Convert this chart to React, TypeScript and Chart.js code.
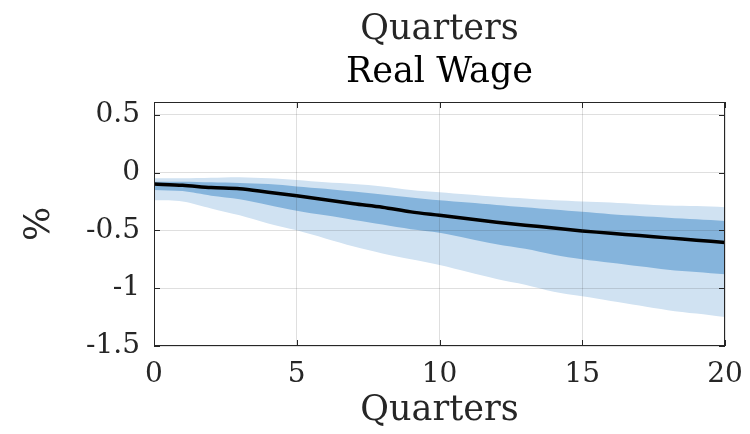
import React, { useEffect, useRef } from "react";
import { Chart, registerables } from "chart.js";

Chart.register(...registerables);

const quarters = [0, 1, 2, 3, 4, 5, 6, 7, 8, 9, 10, 11, 12, 13, 14, 15, 16, 17, 18, 19, 20];
const median = [-0.1, -0.11, -0.13, -0.14, -0.17, -0.2, -0.235, -0.27, -0.3, -0.34, -0.37, -0.4, -0.43, -0.455, -0.48, -0.505, -0.525, -0.545, -0.565, -0.585, -0.605];
const innerUpper = [-0.08, -0.08, -0.085, -0.09, -0.1, -0.12, -0.14, -0.165, -0.19, -0.215, -0.24, -0.26, -0.28, -0.3, -0.32, -0.34, -0.36, -0.375, -0.39, -0.405, -0.42];
const innerLower = [-0.15, -0.16, -0.2, -0.23, -0.28, -0.33, -0.37, -0.41, -0.45, -0.49, -0.52, -0.57, -0.62, -0.66, -0.71, -0.75, -0.78, -0.81, -0.84, -0.86, -0.88];
const outerUpper = [-0.05, -0.05, -0.045, -0.04, -0.05, -0.065, -0.085, -0.1, -0.12, -0.15, -0.17, -0.19, -0.21, -0.225, -0.24, -0.25, -0.26, -0.275, -0.285, -0.29, -0.3];
const outerLower = [-0.24, -0.25, -0.31, -0.37, -0.44, -0.5, -0.57, -0.64, -0.7, -0.75, -0.8, -0.86, -0.92, -0.97, -1.03, -1.07, -1.11, -1.15, -1.19, -1.22, -1.25];
const titleLines = ["Quarters", "Real Wage"];
const xLabel = "Quarters";
const yLabel = "%";
const xTicks = [0, 5, 10, 15, 20];
const yTicks = [-1.5, -1, -0.5, 0, 0.5];

const FONT = '"DejaVu Serif", "Liberation Serif", serif';
const AXIS = "#262626";

const pts = (ys: number[]) => quarters.map((q, i) => ({ x: q, y: ys[i] }));

const framePlugin = {
  id: "frame",
  afterDraw(chart: any) {
    const { ctx, chartArea: a, scales } = chart;
    ctx.save();
    ctx.strokeStyle = AXIS;
    ctx.lineWidth = 1;
    ctx.strokeRect(a.left + 0.5, a.top + 0.5, a.right - a.left - 1, a.bottom - a.top - 1);
    const L = 6;
    ctx.beginPath();
    xTicks.forEach((t) => {
      const x = Math.round(scales.x.getPixelForValue(t)) + 0.5;
      ctx.moveTo(x, a.bottom);
      ctx.lineTo(x, a.bottom - L);
      ctx.moveTo(x, a.top);
      ctx.lineTo(x, a.top + L);
    });
    yTicks.forEach((t) => {
      const y = Math.round(scales.y.getPixelForValue(t)) + 0.5;
      ctx.moveTo(a.left, y);
      ctx.lineTo(a.left + L, y);
      ctx.moveTo(a.right, y);
      ctx.lineTo(a.right - L, y);
    });
    ctx.stroke();
    const cx = (a.left + a.right) / 2;
    ctx.textAlign = "center";
    ctx.textBaseline = "alphabetic";
    ctx.font = `35px ${FONT}`;
    ctx.fillStyle = AXIS;
    ctx.fillText(titleLines[0], cx, 39);
    ctx.fillStyle = "#000";
    ctx.fillText(titleLines[1], cx, 82);
    ctx.restore();
  },
};

export default function App() {
  const ref = useRef<HTMLCanvasElement>(null);
  useEffect(() => {
    if (!ref.current) return;
    const chart = new Chart(ref.current, {
      type: "line",
      data: {
        datasets: [
          { data: pts(median), borderColor: "#000", borderWidth: 3.5, pointRadius: 0, fill: false, tension: 0.3 },
          { data: pts(innerUpper), borderWidth: 0, pointRadius: 0, backgroundColor: "#85b4dc", fill: "+1", tension: 0.3 },
          { data: pts(innerLower), borderWidth: 0, pointRadius: 0, fill: false, tension: 0.3 },
          { data: pts(outerUpper), borderWidth: 0, pointRadius: 0, backgroundColor: "#d0e2f2", fill: "+1", tension: 0.3 },
          { data: pts(outerLower), borderWidth: 0, pointRadius: 0, fill: false, tension: 0.3 },
        ],
      },
      options: {
        animation: false,
        responsive: false,
        layout: { padding: { left: 0, right: 25, top: 102, bottom: 0 } },
        plugins: { legend: { display: false }, tooltip: { enabled: false }, title: { display: false } },
        scales: {
          x: {
            type: "linear",
            min: 0,
            max: 20,
            border: { display: false },
            grid: { color: "rgba(38,38,38,0.15)", drawTicks: false, z: 1 },
            afterBuildTicks: (s: any) => { s.ticks = xTicks.map((v) => ({ value: v })); },
            afterFit: (s: any) => { s.height = 88; s.paddingRight = 0; s.paddingLeft = 0; },
            ticks: { color: AXIS, font: { family: FONT, size: 28 }, padding: 12, callback: (v: any) => String(v), maxRotation: 0 },
            title: { display: true, text: xLabel, color: AXIS, font: { family: FONT, size: 35 }, padding: { top: 0, bottom: 2 } },
          },
          y: {
            type: "linear",
            min: -1.5,
            max: 0.61,
            border: { display: false },
            grid: { color: "rgba(38,38,38,0.15)", drawTicks: false, z: 1 },
            afterBuildTicks: (s: any) => { s.ticks = yTicks.map((v) => ({ value: v })); },
            afterFit: (s: any) => { s.width = 154; s.paddingTop = 0; s.paddingBottom = 0; },
            ticks: { color: AXIS, font: { family: FONT, size: 28 }, padding: 14, callback: (v: any) => String(v) },
            title: { display: true, text: yLabel, color: AXIS, font: { family: FONT, size: 36 }, padding: { top: 18, bottom: 0 } },
          },
        },
      },
      plugins: [framePlugin],
    });
    return () => chart.destroy();
  }, []);
  return (
    <div style={{ position: "absolute", left: 0, top: 0, width: 750, height: 434, background: "#fff" }}>
      <canvas ref={ref} width={750} height={434} />
    </div>
  );
}
